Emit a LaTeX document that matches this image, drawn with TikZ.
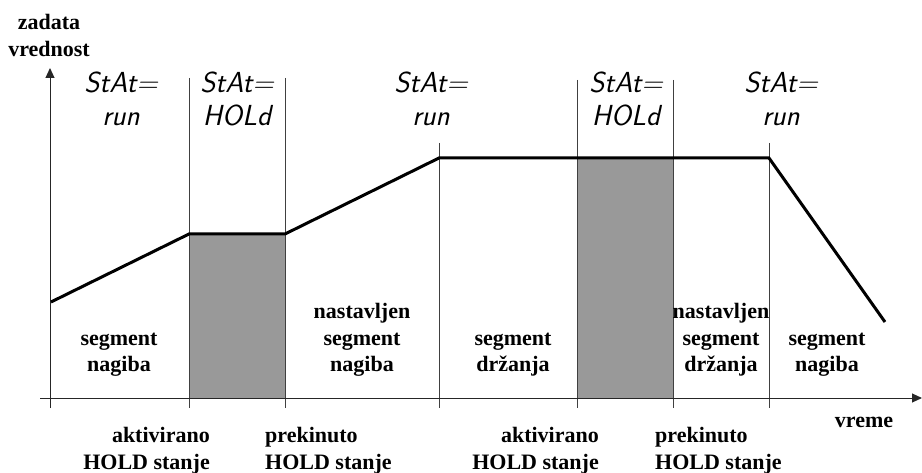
\documentclass[tikz,border=0pt]{standalone}
\usepackage{fontspec}
\setmainfont{Liberation Serif}
\usetikzlibrary{arrows.meta}
\begin{document}
\begin{tikzpicture}[x=1pt,y=-1pt,
  thinline/.style={draw=black!75,line width=0.9pt},
  axisline/.style={draw=black!85,line width=1pt},
  holdfill/.style={fill=black!40},
  profile/.style={line width=3pt,line join=miter},
  lbl/.style={inner sep=0pt,font=\fontsize{22}{27}\selectfont\bfseries},
  seg/.style={inner sep=0pt,align=center,font=\fontsize{29}{33}\selectfont\sffamily\slshape},
  arr/.style={-{Triangle[length=10pt,width=9pt]}}]
\useasboundingbox (0,0) rectangle (922,473);
% hold regions
\fill[holdfill] (189,234) rectangle (285,398);
\fill[holdfill] (577,158) rectangle (673,398);
% coordinates of the boundaries
\coordinate (t1) at (189,78);  \coordinate (b1) at (189,408);
\coordinate (t2) at (285,78);  \coordinate (b2) at (285,408);
\coordinate (t3) at (439,143); \coordinate (b3) at (439,408);
\coordinate (t4) at (577,80);  \coordinate (b4) at (577,408);
\coordinate (t5) at (673,80);  \coordinate (b5) at (673,408);
\coordinate (t6) at (769,143); \coordinate (b6) at (769,408);
\foreach \i in {1,...,6} \draw[thinline] (t\i) -- (b\i);
% axes
\coordinate (ybot) at (50,408);
\coordinate (ytop) at (50,68);
\coordinate (xl) at (40,398);
\coordinate (xr) at (922,398);
\draw[axisline,arr] (ybot) -- (ytop);
\draw[axisline,arr] (xl) -- (xr);
% profile
\coordinate (p0) at (51,302);
\coordinate (p1) at (189,234);
\coordinate (p2) at (285,234);
\coordinate (p3) at (439,158);
\coordinate (p4) at (769,158);
\coordinate (p5) at (885,322);
\draw[profile] (p0) -- (p1) -- (p2) -- (p3) -- (p4) -- (p5);
% axis labels
\node[lbl,anchor=base] (zad) at (49,30) {zadata};
\node[lbl,anchor=base] (vred) at (49,57) {vrednost};
\node[lbl,anchor=base] (vreme) at (864,428) {vreme};
% status displays (base = last line)
\node[seg,anchor=base] (s1) at (121,126) {StAt=\\run};
\node[seg,anchor=base] (s2) at (237,126) {StAt=\\HOLd};
\node[seg,anchor=base] (s3) at (431,126) {StAt=\\run};
\node[seg,anchor=base] (s4) at (626,126) {StAt=\\HOLd};
\node[seg,anchor=base] (s5) at (781,126) {StAt=\\run};
% segment labels
\node[lbl,align=center,anchor=base] (l1) at (119,372) {segment\\nagiba};
\node[lbl,align=center,anchor=base] (l2) at (362,372) {nastavljen\\segment\\nagiba};
\node[lbl,align=center,anchor=base] (l3) at (513,372) {segment\\držanja};
\node[lbl,align=center,anchor=base] (l4) at (721,372) {nastavljen\\segment\\držanja};
\node[lbl,align=center,anchor=base] (l5) at (827,372) {segment\\nagiba};
% event labels
\node[lbl,align=right,anchor=base east] (e1) at (210,469) {aktivirano\\HOLD stanje};
\node[lbl,align=left,anchor=base west] (e2) at (265,469) {prekinuto\\HOLD stanje};
\node[lbl,align=right,anchor=base east] (e3) at (599,469) {aktivirano\\HOLD stanje};
\node[lbl,align=left,anchor=base west] (e4) at (655,469) {prekinuto\\HOLD stanje};
\end{tikzpicture}
\end{document}
